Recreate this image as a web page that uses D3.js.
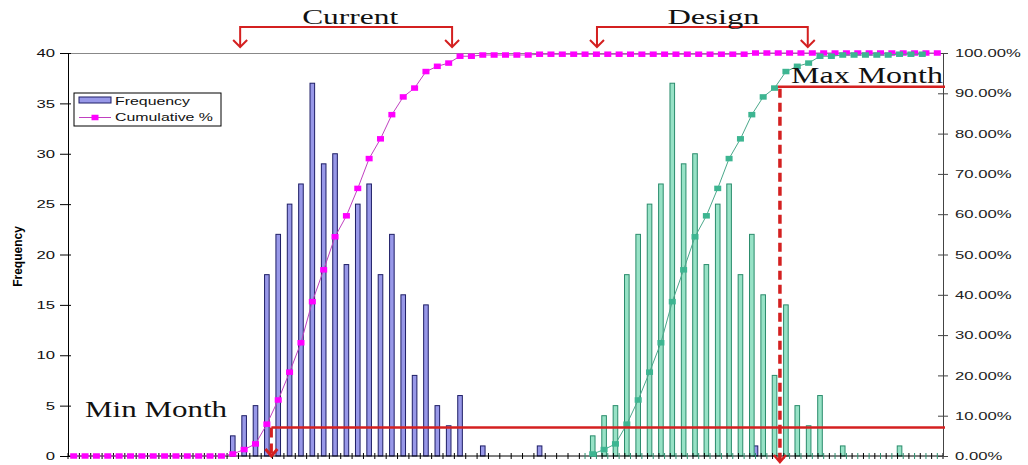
<!DOCTYPE html>
<html lang="en">
<head>
<meta charset="UTF-8">
<title>Current vs Design</title>
<script src="https://cdn.jsdelivr.net/npm/d3@7"></script>
<style>
  body { margin: 0; background: #fff; }
  svg { display: block; }
</style>
</head>
<body>
<div id="chart-space"></div>
<script>
// 77 monthly bins along the x axis (the axis shows no labels)
var bins = d3.range(77);

// Current: frequency per bin
var currentFreq = [
  0,0,0,0,0,0,0,0,0,0, 0,0,0,0,2,4,5,18,22,25,
  27,37,29,30,19,25,27,18,22,16, 8,15,5,3,6,0,1,0,0,0,
  0,1,0,0,0,0,0,0,0,0, 0,0,0,0,0,0,0,0,0,0,
  1,0,0,0,0,0,0,0,0,0, 0,0,0,0,0,0,0
];
// Current: cumulative %
var currentCum = [
  0,0,0,0,0,0,0,0,0,0, 0,0,0,0,0.5,1.6,3.0,7.9,13.9,20.8,
  28.1,38.3,46.2,54.4,59.6,66.4,73.8,78.7,84.7,89.1, 91.3,95.4,96.7,97.5,99.2,99.2,99.5,99.5,99.5,99.5,
  99.5,99.7,99.7,99.7,99.7,99.7,99.7,99.7,99.7,99.7, 99.7,99.7,99.7,99.7,99.7,99.7,99.7,99.7,99.7,99.7,
  100,100,100,100,100,100,100,100,100,100, 100,100,100,100,100,100,100
];
// Design: frequency per bin
var designFreq = [
  0,0,0,0,0,0,0,0,0,0, 0,0,0,0,0,0,0,0,0,0,
  0,0,0,0,0,0,0,0,0,0, 0,0,0,0,0,0,0,0,0,0,
  0,0,0,0,0,0,2,4,5,18, 22,25,27,37,29,30,19,25,27,18,
  22,16,8,15,5,3,6,0,1,0, 0,0,0,1,0,0,0
];
// Design: cumulative % (no points before the first design month)
var designCum = [
  null,null,null,null,null,null,null,null,null,null, null,null,null,null,null,null,null,null,null,null,
  null,null,null,null,null,null,null,null,null,null, null,null,null,null,null,null,null,null,null,null,
  null,null,null,null,null,null,0.5,1.6,3.0,7.9, 13.9,20.8,28.1,38.3,46.2,54.4,59.6,66.4,73.8,78.7,
  84.7,89.1,91.3,95.4,96.7,97.5,99.2,99.2,99.5,99.5, 99.5,99.5,99.5,99.7,99.7,99.7,null
];

var freqTicks = [0, 5, 10, 15, 20, 25, 30, 35, 40];
var pctTicks = [0, 10, 20, 30, 40, 50, 60, 70, 80, 90, 100];
var legendLabels = ["Frequency", "Cumulative %"];

// annotation positions, in data units
var minMonthBin = 17.9, minMonthPct = 7.1;
var maxMonthBin = 62.65, maxMonthPct = 91.6;
var currentSpan = [15.15, 33.8];
var designSpan = [46.55, 65.1];

var width = 1028, height = 465;
var margin = {top: 53, right: 85, bottom: 9, left: 68};
var plotRight = width - margin.right;
var plotBottom = height - margin.bottom;

var blueFill = "#9898e8", blueStroke = "#1e1e66";
var greenFill = "#97e2c6", greenStroke = "#2a8c6c";
var pink = "#ff00ff", pinkLine = "#c040c0";
var teal = "#3db591", tealLine = "#4aa88a";
var red = "#d42020";
var serif = "'Liberation Serif', 'Times New Roman', serif";
var sans = "'Liberation Sans', Arial, sans-serif";

var svg = d3.select("#chart-space").append("svg")
  .attr("width", width)
  .attr("height", height)
  .style("background", "#fff");

var x = d3.scaleBand().domain(bins).range([margin.left, plotRight]);
var step = x.step();
// the design chart sits half a bin (less 2px) to the left
var xDesign = d3.scaleBand().domain(bins).range([margin.left - step / 2 + 2, plotRight - step / 2 + 2]);
var xLin = d3.scaleLinear().domain([0, bins.length]).range([margin.left, plotRight]);

var yFreq = d3.scaleLinear().domain([0, 40]).range([plotBottom, margin.top]);
var yPct = d3.scaleLinear().domain([0, 100]).range([plotBottom, margin.top]);

function cx(k) { return x(k) + step / 2; }
function dx(j) { return xDesign(j) + step / 2; }

// top border of plot area
svg.append("line")
  .attr("x1", margin.left).attr("x2", plotRight)
  .attr("y1", margin.top + 0.5).attr("y2", margin.top + 0.5)
  .attr("stroke", "#888").attr("stroke-width", 1);

var barW = 4.6;

// current frequency bars
svg.append("g").selectAll("rect")
  .data(bins.filter(function(k) { return currentFreq[k] > 0; }))
  .join("rect")
  .attr("x", function(k) { return cx(k) - barW / 2; })
  .attr("y", function(k) { return yFreq(currentFreq[k]); })
  .attr("width", barW)
  .attr("height", function(k) { return yFreq(0) - yFreq(currentFreq[k]); })
  .attr("fill", blueFill)
  .attr("stroke", blueStroke)
  .attr("stroke-width", 1);

// design frequency bars
svg.append("g").selectAll("rect")
  .data(bins.filter(function(j) { return designFreq[j] > 0; }))
  .join("rect")
  .attr("x", function(j) { return dx(j) - barW / 2; })
  .attr("y", function(j) { return yFreq(designFreq[j]); })
  .attr("width", barW)
  .attr("height", function(j) { return yFreq(0) - yFreq(designFreq[j]); })
  .attr("fill", greenFill)
  .attr("stroke", greenStroke)
  .attr("stroke-width", 1);

// bottom axis: line with crossing ticks
svg.append("line")
  .attr("x1", margin.left).attr("x2", plotRight)
  .attr("y1", plotBottom).attr("y2", plotBottom)
  .attr("stroke", "#000").attr("stroke-width", 1);

svg.append("g").selectAll("line")
  .data(d3.range(bins.length + 1))
  .join("line")
  .attr("x1", function(k) { return xLin(k); })
  .attr("x2", function(k) { return xLin(k); })
  .attr("y1", plotBottom - 3)
  .attr("y2", plotBottom + 3)
  .attr("stroke", "#000");

// ticks of the overlaid design chart
svg.append("g").selectAll("line")
  .data(bins.filter(function(k) { return k >= 45; }))
  .join("line")
  .attr("x1", function(k) { return cx(k); })
  .attr("x2", function(k) { return cx(k); })
  .attr("y1", plotBottom - 3)
  .attr("y2", plotBottom + 3)
  .attr("stroke", greenStroke);

// left axis
var leftAxis = svg.append("g")
  .attr("transform", "translate(" + margin.left + ",0)")
  .call(d3.axisLeft(yFreq).tickValues(freqTicks).tickSize(8).tickSizeOuter(0));
leftAxis.selectAll(".tick line").attr("x1", 3);
leftAxis.selectAll(".tick text")
  .attr("x", -9)
  .attr("transform", "scale(1.45,1)")
  .style("font-family", sans)
  .style("font-size", "11.5px")
  .attr("fill", "#111");

// right axis
var rightAxis = svg.append("g")
  .attr("transform", "translate(" + plotRight + ",0)")
  .call(d3.axisRight(yPct).tickValues(pctTicks).tickSize(5).tickSizeOuter(0)
    .tickFormat(function(d) { return d.toFixed(2) + "%"; }));
rightAxis.select(".domain").attr("stroke", "#444");
rightAxis.selectAll(".tick line").attr("x1", -5).attr("stroke", "#444");
rightAxis.selectAll(".tick text")
  .attr("x", 8.3)
  .attr("transform", "scale(1.45,1)")
  .style("font-family", sans)
  .style("font-size", "11.5px")
  .attr("fill", "#222");

// y axis title
svg.append("text")
  .attr("transform", "translate(18," + ((margin.top + plotBottom) / 2 + 2) + ") rotate(-90)")
  .attr("text-anchor", "middle")
  .attr("dy", "0.35em")
  .style("font-family", sans)
  .style("font-size", "12px")
  .style("font-weight", "bold")
  .text("Frequency");

var mw = 7, mh = 5.5;

// current cumulative %
svg.append("path")
  .datum(bins)
  .attr("fill", "none")
  .attr("stroke", pinkLine)
  .attr("stroke-width", 1)
  .attr("d", d3.line().x(cx).y(function(k) { return yPct(currentCum[k]); }));

svg.append("g").selectAll("rect")
  .data(bins)
  .join("rect")
  .attr("x", function(k) { return cx(k) - mw / 2; })
  .attr("y", function(k) { return yPct(currentCum[k]) - mh / 2; })
  .attr("width", mw)
  .attr("height", mh)
  .attr("fill", pink);

// design cumulative %
var designBins = bins.filter(function(j) { return designCum[j] != null; });
svg.append("path")
  .datum(designBins)
  .attr("fill", "none")
  .attr("stroke", tealLine)
  .attr("stroke-width", 1)
  .attr("d", d3.line().x(dx).y(function(j) { return yPct(designCum[j]); }));

svg.append("g").selectAll("rect")
  .data(designBins)
  .join("rect")
  .attr("x", function(j) { return dx(j) - mw / 2; })
  .attr("y", function(j) { return yPct(designCum[j]) - mh / 2; })
  .attr("width", mw)
  .attr("height", mh)
  .attr("fill", teal);

// legend
var legend = svg.append("g").attr("transform", "translate(74,93)");
legend.append("rect")
  .attr("width", 147).attr("height", 33)
  .attr("fill", "#fff").attr("stroke", "#000").attr("stroke-width", 1);
legend.append("rect")
  .attr("x", 5).attr("y", 4).attr("width", 32).attr("height", 6)
  .attr("fill", blueFill).attr("stroke", blueStroke);
legend.append("line")
  .attr("x1", 5).attr("x2", 37).attr("y1", 24.5).attr("y2", 24.5)
  .attr("stroke", pinkLine);
legend.append("rect")
  .attr("x", 21 - mw / 2).attr("y", 24.5 - mh / 2).attr("width", mw).attr("height", mh)
  .attr("fill", pink);
legend.selectAll("text.lab")
  .data(legendLabels)
  .join("text")
  .attr("class", "lab")
  .attr("x", 41)
  .attr("y", function(d, i) { return 11.5 + i * 16; })
  .attr("textLength", function(d, i) { return i === 0 ? 75 : 98; })
  .attr("lengthAdjust", "spacingAndGlyphs")
  .style("font-family", sans)
  .style("font-size", "11.5px")
  .attr("fill", "#111")
  .text(function(d) { return d; });

// annotations
var ann = svg.append("g").attr("stroke", red).attr("fill", "none");

function chevron(g, px, py, w, h, sw) {
  g.append("path")
    .attr("d", "M" + (px - w) + "," + (py - h) + " L" + px + "," + py + " L" + (px + w) + "," + (py - h))
    .attr("stroke-width", sw);
}

function bracket(span, label, textW) {
  var x0 = xLin(span[0]), x1 = xLin(span[1]);
  ann.append("path")
    .attr("d", "M" + x0 + ",46 V27 H" + x1 + " V46")
    .attr("stroke-width", 2);
  chevron(ann, x0, 47, 7, 7, 2);
  chevron(ann, x1, 47, 7, 7, 2);
  svg.append("text")
    .attr("x", (x0 + x1) / 2 - textW / 2 + (label === "Current" ? 4 : 11))
    .attr("y", 24)
    .attr("textLength", textW)
    .attr("lengthAdjust", "spacingAndGlyphs")
    .style("font-family", serif)
    .style("font-size", "22px")
    .attr("fill", "#111")
    .text(label);
}
bracket(currentSpan, "Current", 96);
bracket(designSpan, "Design", 92);

// min month
var minX = xLin(minMonthBin), minY = yPct(minMonthPct);
ann.append("line")
  .attr("x1", minX).attr("x2", plotRight + 2)
  .attr("y1", minY).attr("y2", minY)
  .attr("stroke-width", 2.5);
ann.append("line")
  .attr("x1", minX).attr("x2", minX)
  .attr("y1", minY).attr("y2", plotBottom - 1)
  .attr("stroke-width", 3)
  .attr("stroke-dasharray", "10,6");
chevron(ann, minX, plotBottom, 6, 7, 3);

svg.append("text")
  .attr("x", 85).attr("y", 416.5)
  .attr("textLength", 142)
  .attr("lengthAdjust", "spacingAndGlyphs")
  .style("font-family", serif)
  .style("font-size", "22.5px")
  .attr("fill", "#111")
  .text("Min Month");

// max month
var maxX = xLin(maxMonthBin), maxY = yPct(maxMonthPct);
ann.append("line")
  .attr("x1", maxX - 2).attr("x2", plotRight + 2)
  .attr("y1", maxY).attr("y2", maxY)
  .attr("stroke-width", 2.5);
ann.append("line")
  .attr("x1", maxX).attr("x2", maxX)
  .attr("y1", maxY + 2).attr("y2", plotBottom + 4)
  .attr("stroke-width", 3.5)
  .attr("stroke-dasharray", "9,5");
chevron(ann, maxX, plotBottom + 6, 6, 7, 2.5);

svg.append("text")
  .attr("x", 791).attr("y", 82.5)
  .attr("textLength", 152)
  .attr("lengthAdjust", "spacingAndGlyphs")
  .style("font-family", serif)
  .style("font-size", "23.5px")
  .attr("fill", "#111")
  .text("Max Month");
</script>
</body>
</html>
